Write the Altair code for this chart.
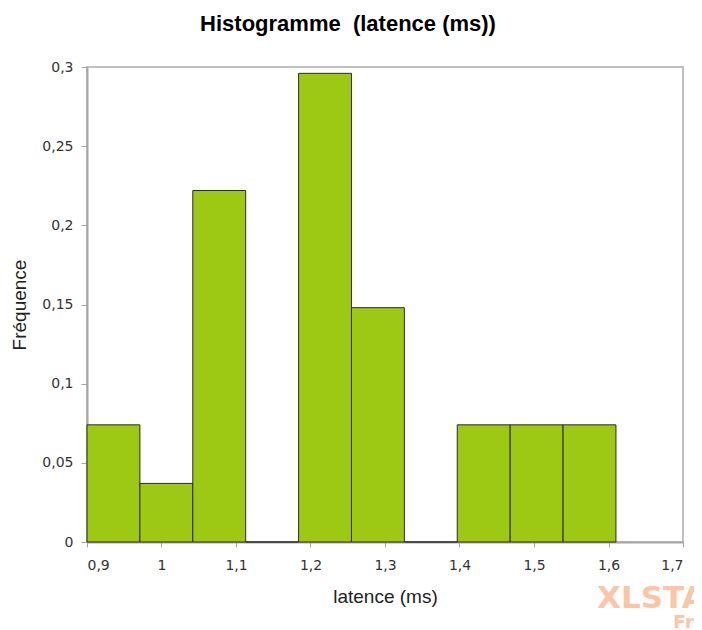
import altair as alt
import pandas as pd

bin_start = [0.9, 0.971, 1.042, 1.113, 1.184, 1.255, 1.326, 1.397, 1.468, 1.539]
bin_end = [0.971, 1.042, 1.113, 1.184, 1.255, 1.326, 1.397, 1.468, 1.539, 1.61]
freq = [0.074, 0.037, 0.222, 0.0, 0.296, 0.148, 0.0, 0.074, 0.074, 0.074]
x_ticks = [0.9, 1.0, 1.1, 1.2, 1.3, 1.4, 1.5, 1.6, 1.7]
y_ticks = [0, 0.05, 0.1, 0.15, 0.2, 0.25, 0.3]

df = pd.DataFrame({"start": bin_start, "end": bin_end, "freq": freq})

label_expr = "replace(format(datum.value, '~g'), '.', ',')"

bars = alt.Chart(df).mark_bar(
    color="#9dc914", stroke="#2b2b2b", strokeWidth=1
).encode(
    x=alt.X("start:Q", scale=alt.Scale(domain=[0.9, 1.7], nice=False, zero=False),
            axis=alt.Axis(values=x_ticks, labelExpr=label_expr, title="latence (ms)",
                          grid=False, tickSize=5, labelPadding=11, titlePadding=15)),
    x2="end:Q",
    y=alt.Y("freq:Q", scale=alt.Scale(domain=[0, 0.3], nice=False),
            axis=alt.Axis(values=y_ticks, labelExpr=label_expr, title="Fréquence",
                          grid=False, tickSize=6, labelPadding=8, titlePadding=12)),
    y2=alt.datum(0),
)

title = alt.Chart(pd.DataFrame({"t": ["Histogramme\u00a0 (latence (ms))"]})).mark_text(
    font="Liberation Sans", fontSize=22, fontWeight="bold", color="#000000",
    align="center", baseline="middle"
).encode(x=alt.value(261), y=alt.value(-43), text="t:N")

wm1 = alt.Chart(pd.DataFrame({"t": ["XLSTAT"]})).mark_text(
    font="DejaVu Sans", fontSize=31, fontWeight="bold", color="#fcc6a6",
    align="left", baseline="alphabetic"
).encode(x=alt.value(510), y=alt.value(541), text="t:N")

wm2 = alt.Chart(pd.DataFrame({"t": ["Free"]})).mark_text(
    font="DejaVu Sans", fontSize=19, fontWeight="bold", color="#fcc6a6",
    align="left", baseline="alphabetic"
).encode(x=alt.value(586), y=alt.value(562), text="t:N")

chart = alt.layer(bars, title, wm1, wm2).properties(
    width=596, height=475,
    autosize=alt.AutoSizeParams(type="none"),
    padding={"left": 79, "top": 59, "right": 11, "bottom": 86},
).configure_view(
    stroke="#c0c0c0", strokeWidth=2
).configure_axis(
    domainColor="#a6a6a6", domainWidth=2, tickColor="#a6a6a6", tickWidth=1,
    labelFont="DejaVu Sans", labelFontSize=14, labelColor="#333333",
    titleFont="Liberation Sans", titleFontSize=19, titleFontWeight="normal",
    titleColor="#222222"
)

chart.save("out.html", embed_options={"renderer": "svg", "actions": False})
